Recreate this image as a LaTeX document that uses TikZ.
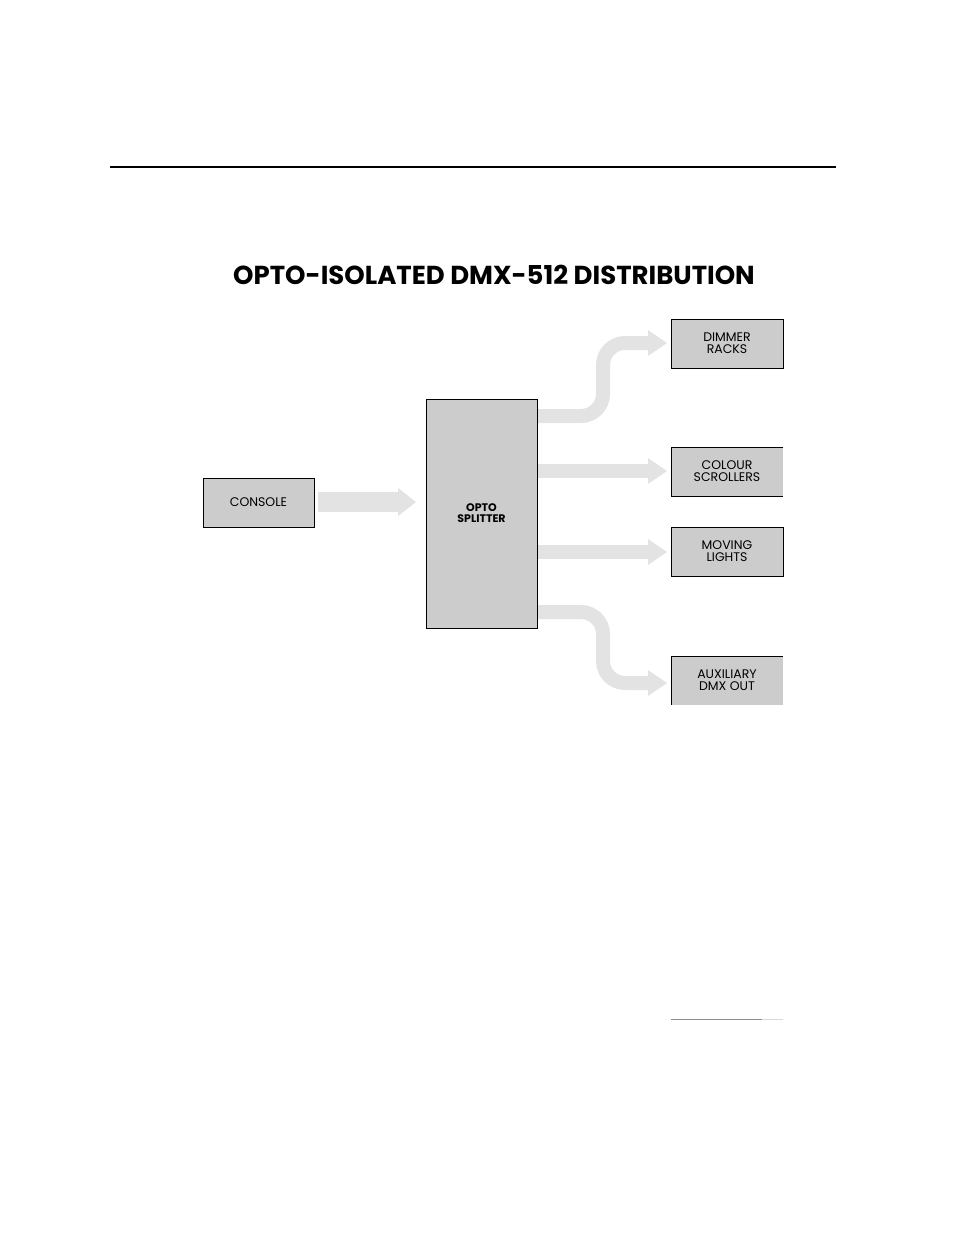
\documentclass[tikz,border=0pt]{standalone}
\usepackage{fontspec}
\setmainfont{Poppins}
\begin{document}
\begin{tikzpicture}[x=1pt,y=-1pt,
  box/.style={fill=black!20,inner sep=0pt,anchor=north west},
  lbl/.style={align=center,font=\fontsize{12.5}{12}\selectfont},
  shaft/.style={line width=14pt,draw=black!11,rounded corners=22pt},
  headf/.style={fill=black!11,draw=none}]
\useasboundingbox (0,0) rectangle (954,1235);
\draw[line width=1.4pt] (110,167) -- (836,167);
\node[font=\bfseries\fontsize{26}{28}\selectfont] (title) at (494,275) {OPTO-ISOLATED DMX-512 DISTRIBUTION};
% console arrow
\fill[black!11] (318,492) rectangle (400,512);
\fill[black!11] (398,488) -- (416,502) -- (398,516) -- cycle;
% boxes
\fill[black!20] (203,478) rectangle (314,527);
\draw (203,478) rectangle (314,527);
\node[lbl] (con) at (258.5,502) {CONSOLE};
\fill[black!20] (426,399) rectangle (537,628);
\draw (426,399) rectangle (537,628);
\node[lbl,font=\bfseries\fontsize{11}{11}\selectfont] (opto) at (481.5,513) {OPTO\\SPLITTER};
% right arrows
\coordinate (a1) at (538,416);
\draw[shaft] (a1) -- (603,416) -- (603,343) -- (650,343);
\fill[black!11] (648,330) -- (667,343) -- (648,356) -- cycle;
\draw[line width=14pt,draw=black!11] (538,471) -- (650,471);
\fill[black!11] (648,458) -- (667,471) -- (648,484) -- cycle;
\draw[line width=14pt,draw=black!11] (538,552) -- (650,552);
\fill[black!11] (648,539) -- (667,552) -- (648,565) -- cycle;
\draw[shaft] (538,612) -- (603,612) -- (603,683) -- (650,683);
\fill[black!11] (648,670) -- (667,683) -- (648,696) -- cycle;
% redraw opto border on top
\draw (426,399) rectangle (537,628);
% right boxes
\fill[black!20] (671,319) rectangle (783,368);
\draw (671,319) rectangle (783,368);
\node[lbl] (dim) at (727,343) {DIMMER\\RACKS};
\fill[black!20] (671,447) rectangle (783,496);
\draw (783,447) -- (671,447) -- (671,496) -- (783,496);
\node[lbl] (col) at (727,471) {COLOUR\\SCROLLERS};
\fill[black!20] (671,527) rectangle (783,576);
\draw (671,527) rectangle (783,576);
\node[lbl] (mov) at (727,551) {MOVING\\LIGHTS};
\fill[black!20] (671,656) rectangle (783,705);
\draw (783,656) -- (671,656) -- (671,705);
\node[lbl] (aux) at (727,680) {AUXILIARY\\DMX OUT};
% footer
\draw[black!15,line width=1pt] (708,1019) -- (783,1019);
\draw[black!45,line width=0.8pt] (671,1019.5) -- (762,1019.5);
\end{tikzpicture}
\end{document}
